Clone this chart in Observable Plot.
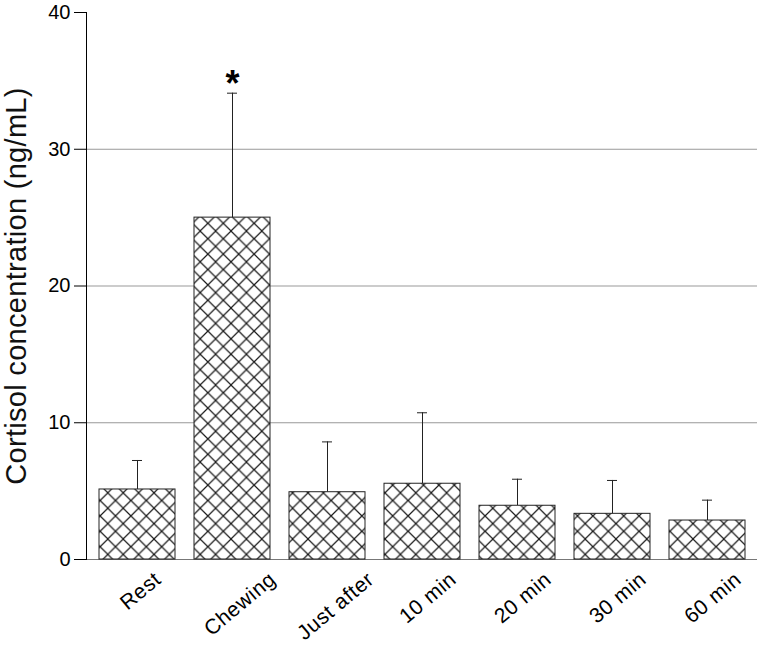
<!DOCTYPE html>
<html><head><meta charset="utf-8">
<script src="https://cdn.jsdelivr.net/npm/d3@7"></script>
<script src="https://cdn.jsdelivr.net/npm/@observablehq/plot@0.6"></script>
<style>body{margin:0;background:#fff;}</style>
</head><body><div id="chart"></div>
<script>
const categories = ["Rest", "Chewing", "Just after", "10 min", "20 min", "30 min", "60 min"];
const means = [5.12, 25.0, 4.92, 5.54, 3.93, 3.34, 2.85];
const sds = [2.12, 9.1, 3.68, 5.19, 1.94, 2.44, 1.49];
const significant = ["Chewing"];
const yTicks = [0, 10, 20, 30, 40];
const gridTicks = [10, 20, 30];
const yLabel = "Cortisol concentration (ng/mL)";

const data = categories.map((c, i) => ({cat: c, mean: means[i], top: means[i] + sds[i]}));

const chart = Plot.plot({
  width: 760, height: 652,
  marginLeft: 86, marginRight: 3, marginTop: 12, marginBottom: 93,
  style: {fontFamily: "'Liberation Sans', Arial, sans-serif", background: "white", color: "black"},
  x: {domain: categories, paddingInner: 0.2, paddingOuter: 0.1, axis: null},
  y: {domain: [0, 40], axis: null},
  marks: [
    Plot.gridY(gridTicks, {stroke: "#999", strokeOpacity: 1}),
    Plot.ruleY([0], {stroke: "#777"}),
    Plot.axisY({ticks: yTicks, tickSize: 12, tickPadding: 4, fontSize: 20, label: null, stroke: "black"}),
    Plot.frame({anchor: "left", stroke: "black"}),
    Plot.ruleX(data, {x: "cat", y1: "mean", y2: "top", stroke: "#222"}),
    Plot.tickY(data, {x: "cat", y: "top", stroke: "#222", insetLeft: 33, insetRight: 33}),
    Plot.barY(data, {x: "cat", y: "mean", fill: "url(#hatch)", stroke: "#222", strokeWidth: 1}),
    Plot.text(data.filter(d => significant.includes(d.cat)), {x: "cat", y: "top", text: () => "*", fontSize: 36, fontWeight: "bold", lineAnchor: "bottom", dy: 3}),
    Plot.text(categories, {x: d => d, frameAnchor: "bottom", text: d => d, textAnchor: "end", lineAnchor: "bottom", rotate: -40, dy: 22, fontSize: 21, fill: "black"}),
    Plot.text([yLabel], {frameAnchor: "left", text: d => d, textAnchor: "middle", lineAnchor: "middle", rotate: -90, dx: -70, fontSize: 29, fill: "#111"})
  ]
});

document.getElementById("chart").appendChild(chart);
const svg = d3.select(chart);
const defs = svg.insert("defs", ":first-child");
const s = 15.4;
const p = defs.append("pattern").attr("id", "hatch").attr("patternUnits", "userSpaceOnUse").attr("width", s).attr("height", s);
p.append("rect").attr("width", s).attr("height", s).attr("fill", "white");
p.append("path").attr("d", `M-1,-1L${s+1},${s+1}M${s+1},-1L-1,${s+1}`).attr("stroke", "#1a1a1a").attr("stroke-width", 1.2);

// widen the text slightly (reference face is broader than Liberation Sans)
svg.selectAll("text").each(function() {
  const t = this.textContent;
  if (categories.includes(t)) this.setAttribute("letter-spacing", "0.6");
  if (t === yLabel) this.setAttribute("letter-spacing", "0.3");
});

// shift rotated category labels so that longer labels sit further right, as in the reference
svg.selectAll("text").each(function() {
  const t = this.textContent;
  if (!categories.includes(t)) return;
  const tr = this.getAttribute("transform") || "";
  const m = tr.match(/translate\(([-\d.]+),\s*([-\d.]+)\)/);
  if (!m) return;
  const L = this.getComputedTextLength();
  const nx = +m[1] + 2.6 + 0.49 * L;
  this.setAttribute("transform", tr.replace(m[0], `translate(${nx},${m[2]})`));
});
</script>
</body></html>
